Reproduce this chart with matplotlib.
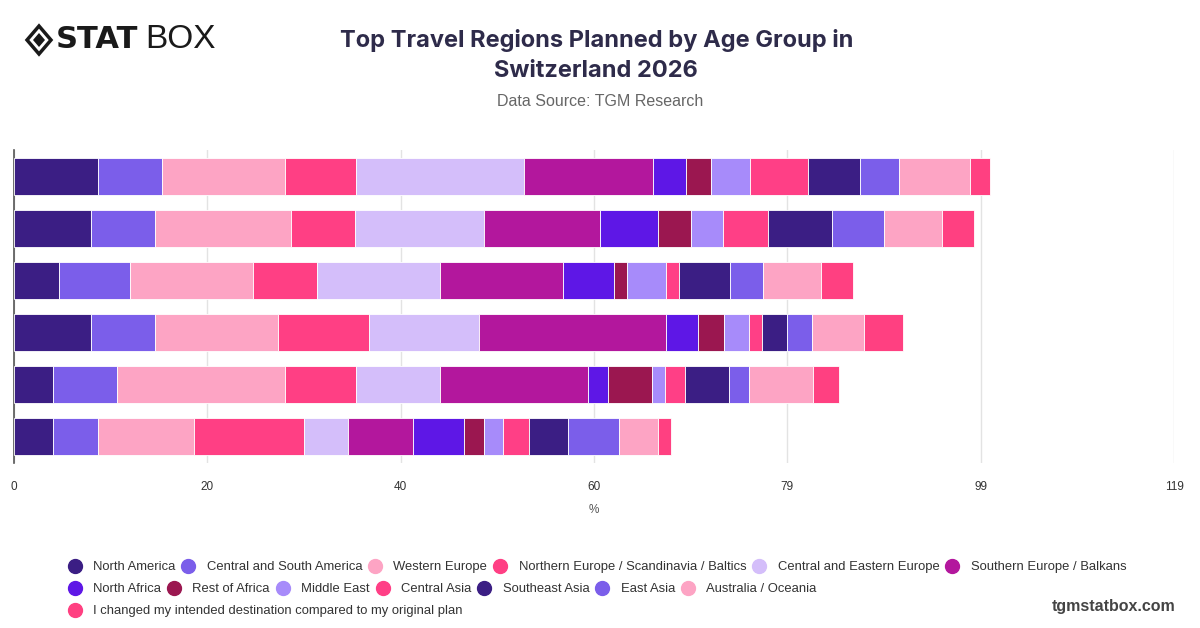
import numpy as np
import matplotlib
matplotlib.use("Agg")
import matplotlib.pyplot as plt
from matplotlib.lines import Line2D
from matplotlib.patches import Polygon

# regions in stacking order (left to right)
regions = ["North America", "Central and South America", "Western Europe",
           "Northern Europe / Scandinavia / Baltics", "Central and Eastern Europe",
           "Southern Europe / Balkans", "North Africa", "Rest of Africa", "Middle East",
           "Central Asia", "Southeast Asia", "East Asia", "Australia / Oceania",
           "I changed my intended destination compared to my original plan"]
colors = ["#3B1E84", "#7B5EEA", "#FDA4C4", "#FF3F84", "#D4BEFA", "#B3179D", "#5E17E6",
          "#9B1750", "#A78BFA", "#FF3F86", "#3B1E84", "#7B5EEA", "#FDA4C4", "#FF4081"]

# one value per bar, top bar first (%)
north_america   = [8.6, 7.9, 4.6, 7.9, 4.0, 4.0]
central_south_a = [6.6, 6.6, 7.3, 6.6, 6.6, 4.6]
western_europe  = [12.6, 13.9, 12.6, 12.6, 17.2, 9.9]
northern_europe = [7.3, 6.6, 6.6, 9.3, 7.3, 11.2]
central_eastern = [17.2, 13.2, 12.6, 11.3, 8.6, 4.6]
southern_europe = [13.3, 11.9, 12.6, 19.2, 15.2, 6.6]
north_africa    = [3.3, 6.0, 5.3, 3.3, 2.0, 5.3]
rest_of_africa  = [2.6, 3.3, 1.3, 2.6, 4.6, 2.0]
middle_east     = [4.0, 3.3, 4.0, 2.6, 1.3, 2.0]
central_asia    = [6.0, 4.6, 1.3, 1.3, 2.0, 2.6]
southeast_asia  = [5.3, 6.6, 5.3, 2.6, 4.6, 4.0]
east_asia       = [4.0, 5.3, 3.3, 2.6, 2.0, 5.3]
australia_oc    = [7.3, 6.0, 6.0, 5.3, 6.6, 4.0]
changed_plan    = [2.0, 3.3, 3.3, 4.0, 2.6, 1.3]

series = [north_america, central_south_a, western_europe, northern_europe, central_eastern,
          southern_europe, north_africa, rest_of_africa, middle_east, central_asia,
          southeast_asia, east_asia, australia_oc, changed_plan]

x_max = 119
ticks = np.linspace(0, x_max, 7)

plt.rcParams['font.family'] = ['Liberation Sans', 'DejaVu Sans']

fig = plt.figure(figsize=(12, 6.28), dpi=100)
ax = fig.add_axes([14/1200, 1-463/628, 1160/1200, 313/628])

y = np.arange(len(north_america))
left = np.zeros(len(y))
for vals, col in zip(series, colors):
    ax.barh(y, vals, left=left, height=0.71, color=col, edgecolor="white", linewidth=0.6, zorder=3)
    left += np.array(vals)

ax.set_xlim(0, x_max)
ax.set_ylim(5.5, -0.5)
ax.set_xticks(ticks)
ax.set_xticklabels([str(round(t)) for t in ticks], fontsize=8.5, color="#333333")
ax.set_yticks([])
ax.tick_params(axis="x", length=0, pad=13)
ax.grid(axis="x", color="#e3e3e3", lw=1, zorder=0)
for s in ["top", "right", "bottom"]:
    ax.spines[s].set_visible(False)
ax.spines["left"].set_color("#555555")
ax.spines["left"].set_linewidth(1.2)
ax.set_xlabel("%", fontsize=8.5, color="#555555", labelpad=8)

# title block
title_font = ["Inter", "DejaVu Sans"]
fig.text(0.497, 1-41/628, "Top Travel Regions Planned by Age Group in", ha="center", va="center",
         fontsize=17, fontweight="bold", color="#2E2B4A", family=title_font)
fig.text(0.497, 1-71/628, "Switzerland 2026", ha="center", va="center",
         fontsize=17, fontweight="bold", color="#2E2B4A", family=title_font)
fig.text(0.5, 1-102/628, "Data Source: TGM Research", ha="center", va="center",
         fontsize=11.5, color="#666666")

# logo
dx, dy = 39/1200, 1-40/628
sx, sy = 12/1200, 14/628
fig.patches.append(Polygon([[dx-sx, dy], [dx, dy+sy], [dx+sx, dy], [dx, dy-sy]], closed=True,
                           fc="none", ec="#1a1a1a", lw=2.5, transform=fig.transFigure))
fig.patches.append(Polygon([[dx-sx*0.5, dy], [dx, dy+sy*0.5], [dx+sx*0.5, dy], [dx, dy-sy*0.5]],
                           closed=True, fc="#1a1a1a", ec="none", transform=fig.transFigure))
fig.text(56/1200, dy, "STAT", ha="left", va="center", fontsize=22, fontweight="heavy",
         color="#1a1a1a", family=["DejaVu Sans"])
fig.text(145/1200, dy, "BOX", ha="left", va="center", fontsize=24, fontweight="light",
         color="#1a1a1a", family=["Liberation Sans Narrow", "Liberation Sans"])

# legend, three rows
def row(idx, ypix):
    handles = [Line2D([], [], marker="o", ls="", markersize=10, color=colors[i]) for i in idx]
    lg = fig.legend(handles, [regions[i] for i in idx], loc="center left",
                    bbox_to_anchor=(68/1200, 1-ypix/628), ncol=len(idx), frameon=False,
                    fontsize=9.4, handlelength=1.0, handletextpad=0.9, columnspacing=0.5,
                    borderaxespad=0, labelcolor="#333333", borderpad=0)
    return lg

row(range(0, 6), 567)
row(range(6, 13), 589)
row([13], 611)

fig.text(1176/1200, 1-606/628, "tgmstatbox.com", ha="right", va="center", fontsize=11.5,
         fontweight="bold", color="#444444")

fig.savefig("out.png", dpi=100)
